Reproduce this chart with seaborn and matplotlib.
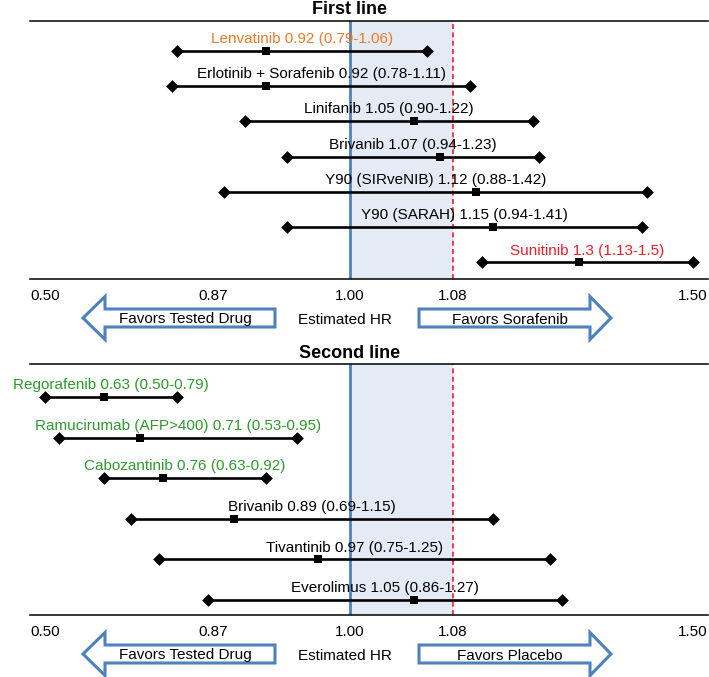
import numpy as np
import matplotlib
matplotlib.use("Agg")
import matplotlib.pyplot as plt
import matplotlib.patches as mpatches
from matplotlib.transforms import Affine2D
import seaborn as sns

# ─────────────────────────────────────────
#  DATA
# ─────────────────────────────────────────
FIRST_LABELS = [
    "Lenvatinib 0.92 (0.79-1.06)",
    "Erlotinib + Sorafenib 0.92 (0.78-1.11)",
    "Linifanib 1.05 (0.90-1.22)",
    "Brivanib 1.07 (0.94-1.23)",
    "Y90 (SIRveNIB) 1.12 (0.88-1.42)",
    "Y90 (SARAH) 1.15 (0.94-1.41)",
    "Sunitinib 1.3 (1.13-1.5)",
]
FIRST_HR   = [0.92, 0.92, 1.05, 1.07, 1.12, 1.15, 1.30]
FIRST_LOW  = [0.79, 0.78, 0.90, 0.94, 0.88, 0.94, 1.13]
FIRST_HIGH = [1.06, 1.11, 1.22, 1.23, 1.42, 1.41, 1.50]

SECOND_LABELS = [
    "Regorafenib 0.63 (0.50-0.79)",
    "Ramucirumab (AFP>400) 0.71 (0.53-0.95)",
    "Cabozantinib 0.76 (0.63-0.92)",
    "Brivanib 0.89 (0.69-1.15)",
    "Tivantinib 0.97 (0.75-1.25)",
    "Everolimus 1.05 (0.86-1.27)",
]
SECOND_HR   = [0.63, 0.71, 0.76, 0.89, 0.97, 1.05]
SECOND_LOW  = [0.50, 0.53, 0.63, 0.69, 0.75, 0.86]
SECOND_HIGH = [0.79, 0.95, 0.92, 1.15, 1.25, 1.27]

TICK_VALUES = [0.50, 0.87, 1.00, 1.08, 1.50]
TICK_LABELS = ["0.50", "0.87", "1.00", "1.08", "1.50"]

# ─────────────────────────────────────────
#  STYLE / LAYOUT
# ─────────────────────────────────────────
W, H = 709, 677
BLUE   = "#4F81BD"
SHADE  = "#E4EBF4"
RED    = "#E8202A"
ORANGE = "#F07A28"
GREEN  = "#2E9A2E"

FIRST_COLORS  = [ORANGE, "black", "black", "black", "black", "black", RED]
SECOND_COLORS = [GREEN, GREEN, GREEN, "black", "black", "black"]

# the original axis is hand-spaced: tick values sit at these pixel columns
TICK_PX = [45, 213, 350, 453, 693]
AX_LEFT_PX, AX_RIGHT_PX = 30, 708

sns.set_theme(style="white")
plt.rcParams.update({
    "font.family": ["Liberation Sans", "DejaVu Sans"],
    "text.color": "black",
    "xtick.color": "black",
})


def _piecewise(x, src, dst):
    x = np.asarray(x, dtype=float)
    src = np.asarray(src, dtype=float)
    dst = np.asarray(dst, dtype=float)
    y = np.interp(x, src, dst)
    lo_slope = (dst[1] - dst[0]) / (src[1] - src[0])
    hi_slope = (dst[-1] - dst[-2]) / (src[-1] - src[-2])
    y = np.where(x < src[0], dst[0] + (x - src[0]) * lo_slope, y)
    y = np.where(x > src[-1], dst[-1] + (x - src[-1]) * hi_slope, y)
    return y


def hr_to_px(x):
    return _piecewise(x, TICK_VALUES, TICK_PX)


def px_to_hr(p):
    return _piecewise(p, TICK_PX, TICK_VALUES)


# ─────────────────────────────────────────
#  PANEL
# ─────────────────────────────────────────
def draw_panel(ax, title, labels, hr, low, high, colors, ylim):
    rows = np.arange(len(labels))
    ax.set_xscale("function", functions=(hr_to_px, px_to_hr))
    ax.set_xlim(float(px_to_hr(AX_LEFT_PX)), float(px_to_hr(AX_RIGHT_PX)))
    ax.set_ylim(*ylim)

    ax.axvspan(1.0, 1.08, color=SHADE, lw=0, zorder=0)
    ax.axvline(1.0, color=BLUE, lw=2.0, zorder=1)
    ax.axvline(1.08, color=RED, lw=1.2, ls=(0, (3, 2)), zorder=1)

    ax.hlines(rows, low, high, color="black", lw=1.9, zorder=2)
    sns.scatterplot(x=list(low) + list(high), y=list(rows) * 2, marker="D",
                    s=42, color="black", linewidth=0, ax=ax, zorder=3,
                    legend=False)
    sns.scatterplot(x=hr, y=rows, marker="s", s=32, color="black",
                    linewidth=0, ax=ax, zorder=3, legend=False)

    for r, lab, lo, hi, c in zip(rows, labels, low, high, colors):
        mid = float(px_to_hr((hr_to_px(lo) + hr_to_px(hi)) / 2))
        ax.annotate(lab, (mid, r), xytext=(0, 8.5), textcoords="offset points",
                    ha="center", va="center", color=c, fontsize=11,
                    annotation_clip=False)

    ax.annotate(title, (1.0, 1.0), xycoords=("data", "axes fraction"),
                xytext=(0, 8), textcoords="offset points", ha="center",
                va="center", fontsize=13, fontweight="bold", color="black",
                annotation_clip=False)

    for side in ("left", "right"):
        ax.spines[side].set_visible(False)
    for side in ("top", "bottom"):
        ax.spines[side].set_color("black")
        ax.spines[side].set_linewidth(1.1)
    ax.set_xticks(TICK_VALUES, TICK_LABELS)
    ax.minorticks_off()
    ax.set_yticks([])
    ax.tick_params(axis="x", length=0, pad=7, labelsize=11, colors="black")


def draw_arrows(fig, yc, right_text):
    trans = Affine2D().scale(1 / W, -1 / H).translate(0, 1) + fig.transFigure
    left = mpatches.FancyArrow(275, yc, -(275 - 83), 0, width=18,
                               head_width=43, head_length=22,
                               length_includes_head=True, fc="white",
                               ec=BLUE, lw=2.2, transform=trans)
    right = mpatches.FancyArrow(419, yc, 611 - 419, 0, width=18,
                                head_width=43, head_length=21,
                                length_includes_head=True, fc="white",
                                ec=BLUE, lw=2.2, transform=trans)
    fig.add_artist(left)
    fig.add_artist(right)
    ty = 1 - (yc + 1.5) / H
    fig.text(185 / W, ty, "Favors Tested Drug", ha="center", va="center",
             fontsize=11)
    fig.text(345 / W, ty, "Estimated HR", ha="center", va="center",
             fontsize=11)
    fig.text(510 / W, ty, right_text, ha="center", va="center",
             fontsize=11)


# ─────────────────────────────────────────
#  MAIN
# ─────────────────────────────────────────
fig = plt.figure(figsize=(W / 100, H / 100), dpi=100)
ax1 = fig.add_axes([AX_LEFT_PX / W, 1 - 279 / H,
                    (AX_RIGHT_PX - AX_LEFT_PX) / W, 258 / H])
ax2 = fig.add_axes([AX_LEFT_PX / W, 1 - 615.3 / H,
                    (AX_RIGHT_PX - AX_LEFT_PX) / W, 251 / H])

draw_panel(ax1, "First line", FIRST_LABELS, FIRST_HR, FIRST_LOW, FIRST_HIGH,
           FIRST_COLORS, (6.47, -0.84))
draw_panel(ax2, "Second line", SECOND_LABELS, SECOND_HR, SECOND_LOW,
           SECOND_HIGH, SECOND_COLORS, (5.38, -0.81))

draw_arrows(fig, 318, "Favors Sorafenib")
draw_arrows(fig, 654, "Favors Placebo")

fig.savefig("out.png", dpi=100)
